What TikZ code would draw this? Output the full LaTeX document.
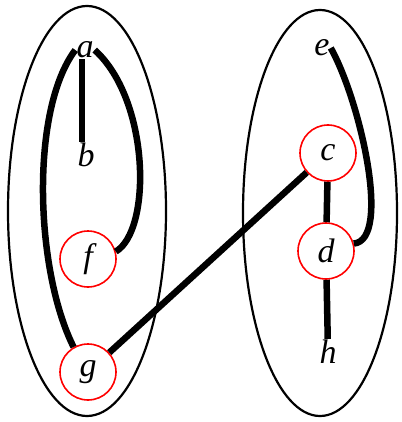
\documentclass[tikz,border=0pt]{standalone}
\usepackage{fontspec}
\setmainfont{Liberation Serif}
\begin{document}
\begin{tikzpicture}[x=1pt,y=-1pt,
  lt/.style={inner sep=1pt,font=\fontsize{34}{34}\selectfont\itshape},
  rc/.style={circle,draw=red,line width=1.6pt,minimum size=56pt,inner sep=0pt,font=\fontsize{34}{34}\selectfont\itshape},
  edge/.style={line width=6.5pt},
  grp/.style={line width=2.2pt}]
\useasboundingbox (0,0) rectangle (401,422);
\draw[grp] (87,211) ellipse [x radius=79, y radius=205];
\draw[grp] (320,213) ellipse [x radius=77, y radius=203];
\node[lt] (a) at (85,50) {a};
\node[lt] (b) at (86,155) {b};
\node[rc] (f) at (88,259) {f};
\node[rc] (g) at (88,372) {g};
\node[lt] (e) at (322,48) {e};
\node[rc] (c) at (328,153) {c};
\node[rc] (d) at (326,251) {d};
\node[lt] (h) at (328,352) {h};
\draw[edge] (a.south -| 82,0) -- (b.north -| 82,0);
\draw[edge] (a.east) .. controls (150,100) and (152,230) .. (f.15);
\draw[edge] (a.west) .. controls (30,110) and (35,270) .. (g.120);
\draw[edge] (g) -- (c);
\draw[edge] (c) -- (d);
\draw[edge] (d) -- (h);
\draw[edge] (e.east) .. controls (360,100) and (392,240) .. (d.15);
\end{tikzpicture}
\end{document}
